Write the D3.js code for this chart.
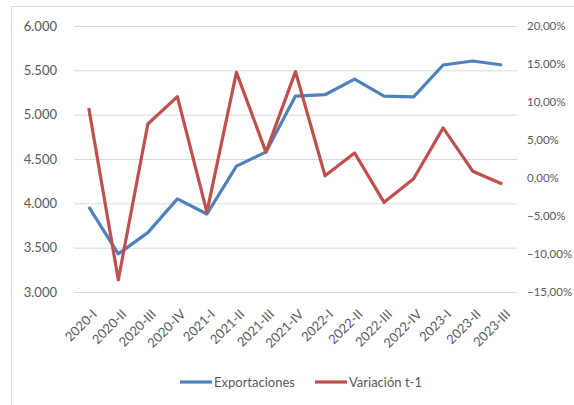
<!DOCTYPE html>
<html>
<head>
<meta charset="utf-8">
<script src="https://cdn.jsdelivr.net/npm/d3@7"></script>
<style>
  body { margin: 0; background: #fff; }
  text { font-family: Lato, "Open Sans", sans-serif; fill: #595959; }
</style>
</head>
<body>
<div id="app"></div>
<script>
// data
const quarters = ["2020-I","2020-II","2020-III","2020-IV","2021-I","2021-II","2021-III","2021-IV",
                  "2022-I","2022-II","2022-III","2022-IV","2023-I","2023-II","2023-III"];
const exportaciones = [3960, 3430, 3670, 4050, 3880, 4420, 4580, 5210, 5225, 5400, 5210, 5200, 5560, 5605, 5560];
const variacion = [9.2, -13.4, 7.1, 10.7, -4.5, 13.9, 3.4, 14.0, 0.3, 3.3, -3.2, -0.1, 6.6, 0.9, -0.8];
const leftTicks = [3000, 3500, 4000, 4500, 5000, 5500, 6000];
const rightTicks = [-15, -10, -5, 0, 5, 10, 15, 20];

const w = 574, h = 405;
const pLeft = 74, pRight = 517, pTop = 26, pBottom = 292;

const svg = d3.select("#app").append("svg")
    .attr("width", w)
    .attr("height", h)

// chart frame
svg.append("rect")
    .attr("x", 11.5).attr("y", 6.5)
    .attr("width", 600).attr("height", 450)
    .attr("fill", "#fff")
    .attr("stroke", "#d9d9d9")

const x = d3.scaleBand()
    .domain(quarters)
    .range([pLeft, pRight])

const yL = d3.scaleLinear().domain([3000, 6000]).range([pBottom, pTop])
const yR = d3.scaleLinear().domain([-15, 20]).range([pBottom, pTop])

const fmtL = v => d3.format(",")(v).replace(",", ".")
const fmtR = v => d3.format(".2f")(v).replace(".", ",") + "%"

// gridlines + left axis
const yAxisL = d3.axisLeft(yL).tickValues(leftTicks).tickSize(-(pRight - pLeft)).tickFormat(fmtL)
const gL = svg.append("g")
    .attr("transform", "translate(" + pLeft + ",0)")
    .call(yAxisL)
gL.select(".domain").remove()
gL.selectAll("line").attr("stroke", "#d9d9d9").attr("stroke-width", 1)
gL.selectAll("text").attr("x", -17).style("font-size", "13px").style("fill", "#595959")

const yAxisR = d3.axisRight(yR).tickValues(rightTicks).tickSize(0).tickFormat(fmtR)
const gR = svg.append("g")
    .attr("transform", "translate(" + pRight + ",0)")
    .call(yAxisR)
gR.select(".domain").remove()
gR.selectAll("text").attr("x", 10).style("font-size", "11.5px").style("fill", "#595959")

// x labels
const xAxis = d3.axisBottom(x).tickSize(0)
const gX = svg.append("g")
    .attr("transform", "translate(0," + pBottom + ")")
    .call(xAxis)
gX.select(".domain").remove()
gX.selectAll("text")
    .style("font-size", "13px")
    .style("fill", "#595959")
    .style("text-anchor", "end")
    .attr("dy", 0)
    .attr("y", 0)
    .attr("transform", "translate(9,23) rotate(-45)")

const cx = d => x(d) + x.bandwidth() / 2

const lineL = d3.line().x((d, i) => cx(quarters[i])).y(d => yL(d))
const lineR = d3.line().x((d, i) => cx(quarters[i])).y(d => yR(d))

svg.append("path")
    .attr("d", lineL(exportaciones))
    .attr("fill", "none")
    .attr("stroke", "#4f81bd")
    .attr("stroke-width", 3.2)
    .attr("stroke-linejoin", "round")

svg.append("path")
    .attr("d", lineR(variacion))
    .attr("fill", "none")
    .attr("stroke", "#c0504d")
    .attr("stroke-width", 3.2)
    .attr("stroke-linejoin", "round")

// legend
const legend = svg.append("g").attr("transform", "translate(0,382)")
const items = [["Exportaciones", "#4f81bd", 180], ["Variación t-1", "#c0504d", 315]]
items.forEach(it => {
    legend.append("line")
        .attr("x1", it[2]).attr("x2", it[2] + 32)
        .attr("y1", 0).attr("y2", 0)
        .attr("stroke", it[1]).attr("stroke-width", 3.2)
    legend.append("text")
        .attr("x", it[2] + 34).attr("y", 5)
        .style("font-size", "13px")
        .text(it[0])
})
</script>
</body>
</html>
